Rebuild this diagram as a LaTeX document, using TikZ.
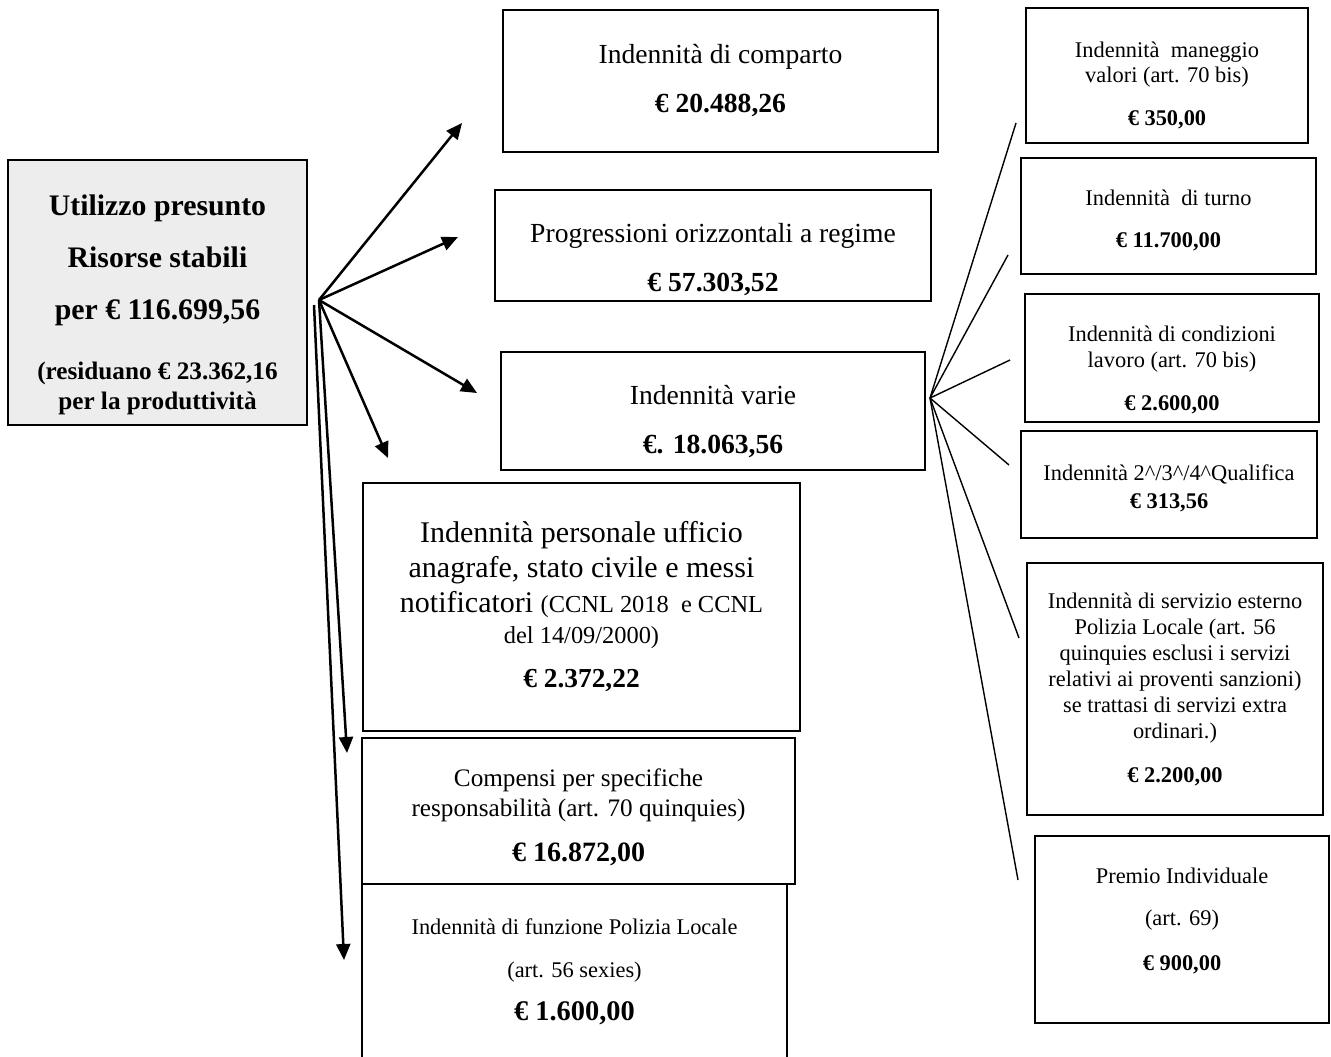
\documentclass[tikz,border=0pt]{standalone}
\usepackage{fontspec}
\setmainfont{Liberation Serif}
\usetikzlibrary{arrows.meta}
\newcommand{\giu}[1]{\rule{0pt}{#1}}% abbassa il testo nel riquadro
\newcommand{\alza}[1]{\rule[-#1]{0pt}{0pt}}% alza il testo nel riquadro
\tikzset{
  box_node/.style = {draw=black, line width=1pt, align=center, inner sep=0pt,
    text centered},% riquadro semplice
  box_size/.style 2 args = {minimum width=#1, minimum height=#2},
  main_box/.style = {box_node, fill=black!7,
    font=\bfseries\fontsize{14.9}{15}\selectfont},% risorse stabili
  mid_box/.style = {box_node, font=\fontsize{13.8}{16}\selectfont},% colonna centrale
  side_box/.style = {box_node, font=\fontsize{11.2}{13}\selectfont},% colonna destra
  open_box/.style = {box_node, draw=none},% riquadro aperto in basso
  arrow_line/.style = {line width=1.25pt, -{Triangle[length=8pt,width=7pt]}},
  fan_line/.style = {line width=0.7pt}% indennita varie
}

\begin{document}
\begin{tikzpicture}[x=0.5pt, y=-0.5pt]
  \useasboundingbox (0,0) rectangle (1331,1056);

  % riquadro di partenza
  \node [main_box, box_size={149.5pt}{132.5pt}] (main) at (157.5,292.5)
    {\giu{22.4pt}Utilizzo presunto\\[11pt]Risorse stabili\\[11pt]per € 116.699,56\\[15pt]
     {\fontsize{12.6}{15}\selectfont (residuano € 23.362,16}\\
     {\fontsize{12.6}{15}\selectfont per la produttività}};

  % colonna centrale
  \node [mid_box, box_size={217.5pt}{71pt}] (comparto) at (720.5,81)
    {Indennità di comparto\\[8.5pt]\textbf{€ 20.488,26}};
  \node [mid_box, box_size={218pt}{55.5pt}] (progr) at (713,245.5)
    {\giu{23.4pt}Progressioni orizzontali a regime\\[8.5pt]\textbf{€ 57.303,52}};
  \node [mid_box, box_size={212pt}{59pt}] (varie) at (713,411)
    {\giu{19.7pt}Indennità varie\\[8.5pt]\textbf{€. 18.063,56}};
  \node [box_node, box_size={218.5pt}{124pt}, font=\fontsize{15}{17.5}\selectfont]
    (personale) at (581.5,607)
    {Indennità personale ufficio\\anagrafe, stato civile e messi\\
     notificatori {\fontsize{12.2}{14}\selectfont (CCNL 2018~ e CCNL}\\[-2pt]
     {\fontsize{12.2}{14}\selectfont del 14/09/2000)}\\[4.5pt]
     {\bfseries\fontsize{13.7}{16}\selectfont € 2.372,22}};
  \node [box_node, box_size={216.5pt}{73pt}, font=\fontsize{12.6}{15}\selectfont]
    (compensi) at (578.5,811)
    {\giu{14.8pt}Compensi per specifiche\\responsabilità (art. 70 quinquies)\\[7.5pt]
     {\bfseries\fontsize{14}{16}\selectfont € 16.872,00}};
  \node [open_box, box_size={211.5pt}{86.5pt}, font=\fontsize{11.2}{13.5}\selectfont]
    (funzione) at (574.5,971.5)
    {Indennità di funzione Polizia Locale\\[8pt](art. 56 sexies)\\[8pt]
     {\bfseries\fontsize{14.2}{16}\selectfont € 1.600,00}};
  \draw [line width=1pt] (funzione.south west) |- (funzione.north east)
    -- (funzione.south east);

  % colonna destra
  \node [side_box, box_size={141pt}{67.5pt}] (maneggio) at (1167,75.5)
    {\giu{17.8pt}Indennità~ maneggio\\[-0.5pt]valori (art. 70 bis)\\[8.5pt]\textbf{€ 350,00}};
  \node [side_box, box_size={147.5pt}{58pt}] (turno) at (1168.5,216)
    {\giu{11.8pt}Indennità~ di turno\\[8pt]\textbf{€ 11.700,00}};
  \node [side_box, box_size={147pt}{64pt}] (condizioni) at (1172,358)
    {\giu{19.8pt}Indennità di condizioni\\lavoro (art. 70 bis)\\[8.5pt]\textbf{€ 2.600,00}};
  \node [side_box, box_size={148pt}{53.5pt}] (qualifica) at (1169,484.5)
    {\giu{11.8pt}Indennità 2\textasciicircum/3\textasciicircum/4\textasciicircum Qualifica\\[1pt]
     \textbf{€ 313,56}};
  \node [side_box, box_size={148pt}{126pt}] (servizio) at (1175,689)
    {Indennità di servizio esterno\\Polizia Locale (art. 56\\
     quinquies esclusi i servizi\\relativi ai proventi sanzioni)\\
     se trattasi di servizi extra\\ordinari.)\\[9pt]\textbf{€ 2.200,00}};
  \node [side_box, box_size={147pt}{93.5pt}] (premio) at (1182,929.5)
    {Premio Individuale\\[8pt](art. 69)\\[9.5pt]\textbf{€ 900,00}\alza{10.7pt}};

  % frecce dal riquadro di partenza
  \coordinate (hub) at ([xshift=5.5pt,yshift=-3.75pt]main.east);
  \coordinate (to_comparto) at (462,123);
  \coordinate (to_progr) at (458,237);
  \coordinate (to_varie) at (477,393);
  \coordinate (to_personale) at (388,458);
  \coordinate (to_compensi) at (347,753);
  \coordinate (to_funzione) at (344,960);
  \foreach \t in {comparto, progr, varie, personale, compensi}
    \draw [arrow_line] (hub) -- (to_\t);
  \draw [arrow_line] ([xshift=-2.5pt,yshift=-2.5pt]hub) -- (to_funzione);

  % ventaglio delle indennita varie
  \coordinate (v_hub) at ([xshift=2pt,yshift=6.5pt]varie.east);
  \foreach \i/\p in {1/{1016,123}, 2/{1008,255}, 3/{1010,360},
                     4/{1009,465}, 5/{1019,638}, 6/{1018,880}}{
    \coordinate (v_end\i) at (\p);
    \draw [fan_line] (v_hub) -- (v_end\i);
  }
\end{tikzpicture}
\end{document}
